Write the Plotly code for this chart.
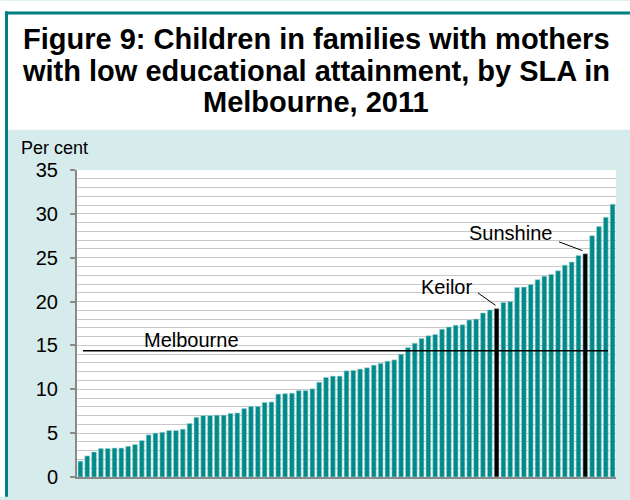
import plotly.graph_objects as go

# ---- data ----
values = [1.8, 2.4, 2.85, 3.25, 3.25, 3.3, 3.3, 3.5, 3.7, 4.15,
          4.8, 5.0, 5.1, 5.3, 5.3, 5.45, 6.1, 6.8, 7.0, 7.0,
          7.05, 7.05, 7.25, 7.3, 7.8, 8.05, 8.05, 8.5, 8.55, 9.45,
          9.5, 9.55, 9.85, 9.85, 10.05, 10.8, 11.35, 11.5, 11.5, 12.1,
          12.15, 12.3, 12.45, 12.75, 12.95, 13.2, 13.35, 14.0, 14.75, 15.25,
          15.8, 16.1, 16.25, 16.85, 17.1, 17.3, 17.35, 17.9, 18.0, 18.7,
          19.05, 19.2, 19.9, 20.0, 21.6, 21.65, 21.95, 22.5, 22.9, 23.1,
          23.5, 24.15, 24.5, 25.25, 25.45, 27.5, 28.55, 29.6, 31.1]
categories = [f"SLA {i+1}" for i in range(len(values))]
highlight = {"Keilor": 61, "Sunshine": 74}
melbourne_avg = 14.4
title_lines = ["Figure 9: Children in families with mothers",
               "with low educational attainment, by SLA in",
               "Melbourne, 2011"]
y_ticks = [0, 5, 10, 15, 20, 25, 30, 35]

# ---- layout helpers (pixel -> paper) ----
W, H = 630, 500
L, R, T, B = 77, 14, 170, 18
pw, ph = W - L - R, H - T - B
def px(x): return (x - L) / pw
def py(y): return (H - B - y) / ph

TEAL = "#008A8A"
BORDER = "#008080"
CYAN = "#D6EBEC"
FONT = "Liberation Sans, Arial, sans-serif"

colors = [TEAL] * len(values)
for idx in highlight.values():
    colors[idx] = "#000000"

fig = go.Figure()
fig.add_trace(go.Bar(
    x=categories, y=values,
    marker=dict(color=colors, line=dict(color="#9fd0d0", width=0.6)),
    hoverinfo="y",
))

shapes = [
    # white strip at very left/top (outside the frame)
    dict(type="rect", xref="paper", yref="paper", x0=px(-2), x1=px(5), y0=py(502), y1=py(-2),
         fillcolor="white", line=dict(width=0), layer="above"),
    dict(type="rect", xref="paper", yref="paper", x0=px(-2), x1=px(632), y0=py(9), y1=py(-2),
         fillcolor="white", line=dict(width=0), layer="above"),
    # white title panel
    dict(type="rect", xref="paper", yref="paper", x0=px(5), x1=px(632), y0=py(129), y1=py(9),
         fillcolor="white", line=dict(width=0), layer="above"),
    # teal border left and top
    dict(type="rect", xref="paper", yref="paper", x0=px(5), x1=px(8), y0=py(502), y1=py(9),
         fillcolor=BORDER, line=dict(width=0), layer="above"),
    dict(type="rect", xref="paper", yref="paper", x0=px(5), x1=px(632), y0=py(12), y1=py(9),
         fillcolor=BORDER, line=dict(width=0), layer="above"),
    # Melbourne average line
    dict(type="line", xref="paper", yref="y", x0=px(83), x1=px(608),
         y0=melbourne_avg, y1=melbourne_avg, line=dict(color="black", width=1.5), layer="above"),
    # leader lines
    dict(type="line", xref="paper", yref="paper", x0=px(478), y0=py(295), x1=px(495.5), y1=py(307.5),
         line=dict(color="black", width=1), layer="above"),
    dict(type="line", xref="paper", yref="paper", x0=px(559), y0=py(243), x1=px(582.5), y1=py(252),
         line=dict(color="black", width=1), layer="above"),
]

annotations = []
for i, line in enumerate(title_lines):
    annotations.append(dict(text=f"<b>{line}</b>", xref="paper", yref="paper",
                            x=px(316), y=py(37 + 32 * i), xanchor="center", yanchor="middle",
                            showarrow=False, font=dict(family=FONT, size=29, color="black")))
annotations += [
    dict(text="Per cent", xref="paper", yref="paper", x=px(19), y=py(148),
         xanchor="left", yanchor="middle", showarrow=False,
         font=dict(family=FONT, size=18, color="black")),
    dict(text="Melbourne", xref="paper", yref="paper", x=px(191), y=py(343),
         xanchor="center", yanchor="middle", showarrow=False,
         font=dict(family=FONT, size=20, color="black")),
    dict(text="Keilor", xref="paper", yref="paper", x=px(474), y=py(289),
         xanchor="right", yanchor="middle", showarrow=False,
         font=dict(family=FONT, size=20, color="black")),
    dict(text="Sunshine", xref="paper", yref="paper", x=px(510), y=py(234),
         xanchor="center", yanchor="middle", showarrow=False,
         font=dict(family=FONT, size=20, color="black")),
]

fig.update_layout(
    width=W, height=H,
    margin=dict(l=L, r=R, t=T, b=B, pad=0),
    paper_bgcolor=CYAN, plot_bgcolor="white",
    bargap=0.3, showlegend=False,
    shapes=shapes, annotations=annotations,
    font=dict(family=FONT, size=20, color="black"),
    xaxis=dict(showticklabels=False, ticks="", showgrid=False,
               showline=True, linecolor="#8a8a8a", linewidth=2,
               range=[-0.5, len(values) - 0.5], fixedrange=True),
    yaxis=dict(range=[0, 35], tickvals=y_ticks, ticks="outside", ticklen=5,
               tickcolor="#8a8a8a", tickwidth=1.5,
               showline=True, linecolor="#8a8a8a", linewidth=2,
               showgrid=True, gridcolor="#c8c8c8", gridwidth=1.2,
               minor=dict(dtick=1, showgrid=True, gridcolor="#c8c8c8", gridwidth=1.2, ticks=""),
               tickfont=dict(family=FONT, size=20, color="black"),
               ticklabelstandoff=8, zeroline=False, fixedrange=True),
)

fig.write_html("out.html",
               config={"displayModeBar": False},
               post_script="document.body.style.margin='0';document.body.style.overflow='hidden';")
